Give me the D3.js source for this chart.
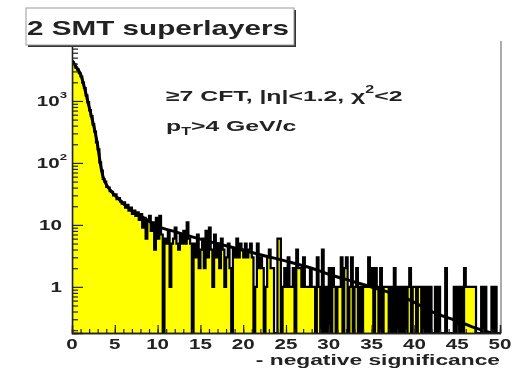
<!DOCTYPE html>
<html>
<head>
<meta charset="utf-8">
<script src="https://cdn.jsdelivr.net/npm/d3@7"></script>
<style>
  html, body { margin: 0; padding: 0; background: #fff; }
  svg { display: block; filter: blur(0.65px); }
</style>
</head>
<body>
<svg id="chart" width="514" height="369"></svg>
<script>
// ---------------- data ----------------
const binWidth = 0.2;           // histogram bin width (units of significance)
const histMin = 0;
const counts = [
  // 0 - 5
  4250, 3950, 3450, 3200, 2800, 2480, 1980, 1620, 1230, 960,
  710, 570, 420, 320, 215, 165, 102, 75, 55, 50,
  41, 40, 35, 34, 30,
  // 5 - 10
  31, 26, 27, 24, 22, 23, 19, 21, 17, 19,
  15, 17, 14, 16, 12, 15, 9, 13, 6, 12,
  14, 8, 11, 4, 13,
  // 10 - 20
  6, 14, 7, 0, 6, 5, 8, 1, 5, 6,
  9, 5, 4, 7, 5, 8, 5, 11, 6, 5,
  0, 5, 3, 7, 2, 4, 6, 2, 8, 3,
  9, 4, 1, 7, 3, 5, 2, 6, 4, 1,
  3, 5, 2, 0, 4, 3, 6, 3, 5, 4,
  // 20 - 30
  3, 5, 3, 4, 5, 3, 0, 1, 5, 2,
  3, 2, 0, 1, 3, 4, 2, 2, 0, 0,
  6, 6, 0, 1, 2, 1, 3, 1, 1, 2,
  0, 4, 2, 2, 1, 3, 1, 1, 1, 2,
  1, 1, 0, 3, 1, 0, 4, 0, 1, 0,
  // 30 - 40
  2, 0, 2, 1, 0, 1, 1, 3, 0, 2,
  3, 0, 1, 3, 0, 1, 2, 0, 1, 0,
  1, 1, 1, 3, 1, 2, 0, 2, 1, 0,
  2, 0, 1, 1, 1, 0, 1, 0, 2, 0,
  1, 0, 1, 0, 1, 0, 1, 2, 0, 1,
  // 40 - 50
  1, 0, 1, 1, 0, 1, 0, 1, 0, 1,
  0, 0, 1, 0, 1, 0, 0, 0, 2, 0,
  0, 0, 0, 1, 0, 1, 0, 1, 0, 2,
  1, 1, 1, 1, 1, 1, 0, 0, 0, 1,
  0, 1, 0, 0, 0, 1, 0, 1, 0, 0
];

// fitted curve
const fitX = [0, 0.5, 1.0, 1.5, 2.0, 2.5, 2.8, 3.0, 3.3, 3.6, 4.0, 4.5, 5.0, 5.5, 6.0, 7.0, 8.0, 9.0, 10,
              12, 15, 18, 20, 22, 25, 28, 30, 33, 36, 39, 42, 45, 47, 49];
const fitY = [4500, 3500, 2700, 1550, 800, 420, 270, 190, 100, 62, 45, 36, 30, 26, 22, 17, 14, 11.5, 9.5,
              7.8, 5.9, 4.6, 3.9, 3.3, 2.6, 2.0, 1.6, 1.2, 0.9, 0.66, 0.40, 0.28, 0.22, 0.18];

const xTicksMajor = [0, 5, 10, 15, 20, 25, 30, 35, 40, 45, 50];
const xTicksMinor = d3.range(0, 51, 1);
const yTicksMajor = [1, 10, 100, 1000];
const yTickBase = ["1", "10", "10", "10"];
const yTickExp = ["", "", "2", "3"];
const yTicksMinor = [0.2,0.3,0.4,0.5,0.6,0.7,0.8,0.9, 2,3,4,5,6,7,8,9, 20,30,40,50,60,70,80,90,
                     200,300,400,500,600,700,800,900, 2000,3000,4000,5000,6000,7000,8000];

const titleText = "2 SMT superlayers";
const xAxisTitle = "- negative significance";

// ---------------- layout ----------------
const svg = d3.select("#chart");
const FX0 = 72, FX1 = 500, FY0 = 45, FY1 = 333;
const SX = 1.47; // horizontal stretch of the fonts in the original
const FONT = "'Liberation Sans', Arial, Helvetica, sans-serif";

const x = d3.scaleLinear().domain([0, 50]).range([FX0, FX1]);
const y = d3.scaleLog().domain([0.18, 8000]).range([FY1, FY0]);

svg.append("rect").attr("width", 514).attr("height", 369).attr("fill", "#fff");

svg.append("defs").append("clipPath").attr("id", "frameClip")
  .append("rect").attr("x", FX0).attr("y", FY0).attr("width", FX1 - FX0).attr("height", FY1 - FY0);

// frame (right edge)
svg.append("line").attr("x1", FX1 + 1).attr("x2", FX1 + 1).attr("y1", FY0 - 4).attr("y2", FY1)
  .attr("stroke", "#888").attr("stroke-width", 1.4);

// histogram
const yv = v => v > 0 ? y(v) : FY1;
let pts = [[x(histMin), FY1]];
counts.forEach((c, i) => {
  const a = histMin + i * binWidth, b = a + binWidth;
  pts.push([x(a), yv(c)], [x(b), yv(c)]);
});
pts.push([x(histMin + counts.length * binWidth), FY1]);

const plot = svg.append("g").attr("clip-path", "url(#frameClip)");
plot.append("path")
  .attr("d", d3.line()(pts) + "Z")
  .attr("fill", "#ffff00").attr("stroke", "none");
plot.append("path")
  .attr("d", d3.line()(pts))
  .attr("fill", "none").attr("stroke", "#000").attr("stroke-width", 2.2);

// fit curve
const fitLine = d3.line().x(d => x(d[0])).y(d => y(d[1])).curve(d3.curveMonotoneX);
plot.append("path")
  .attr("d", fitLine(fitX.map((v, i) => [v, fitY[i]])))
  .attr("fill", "none").attr("stroke", "#000").attr("stroke-width", 3);

// axes (ticks point inward)
const gx = svg.append("g").attr("transform", `translate(0,${FY1})`);
gx.call(d3.axisBottom(x).tickValues(xTicksMinor).tickSize(-4).tickFormat(""));
gx.append("g").call(d3.axisBottom(x).tickValues(xTicksMajor).tickSize(-8).tickFormat(""));
gx.selectAll(".domain").attr("stroke", "#222").attr("stroke-width", 1.3);
gx.selectAll(".tick line").attr("stroke", "#222").attr("stroke-width", 1.2);

const gy = svg.append("g").attr("transform", `translate(${FX0},0)`);
gy.call(d3.axisLeft(y).tickValues(yTicksMinor).tickSize(-6).tickFormat(""));
gy.append("g").call(d3.axisLeft(y).tickValues(yTicksMajor).tickSize(-11).tickFormat(""));
gy.selectAll(".domain").attr("stroke", "#222").attr("stroke-width", 1.3);
gy.selectAll(".tick line").attr("stroke", "#222").attr("stroke-width", 1.2);

// stretched text helper
function stext(px, py, size, anchor, sx) {
  return svg.append("text")
    .attr("transform", `translate(${px},${py}) scale(${sx || SX},1)`)
    .attr("text-anchor", anchor)
    .attr("fill", "#222")
    .style("font-family", FONT).style("font-weight", "bold").style("font-size", size + "px");
}

// x tick labels
xTicksMajor.forEach(v => {
  stext(x(v), 349, 14, "middle").text(v);
});

// y tick labels
yTicksMajor.forEach((v, i) => {
  const t = stext(yTickExp[i] ? 67 : 62, y(v) + 5, 14, "end");
  t.append("tspan").text(yTickBase[i]);
  if (yTickExp[i]) t.append("tspan").attr("dy", -8).style("font-size", "9px").text(yTickExp[i]);
});

// x axis title
stext(500, 365, 15.5, "end").text(xAxisTitle);

// annotations
const t1 = stext(166, 101, 15.5, "start", 1.6);
t1.append("tspan").text("\u22657 CFT, |\u03b7|<1.2, \u03c7");
t1.append("tspan").attr("dy", -8).style("font-size", "10px").text("2");
t1.append("tspan").attr("dy", 8).text("<2");

const t2 = stext(166, 131, 15.5, "start", 1.6);
t2.append("tspan").text("p");
t2.append("tspan").attr("dy", 4).style("font-size", "10px").text("T");
t2.append("tspan").attr("dy", -4).text(">4 GeV/c");

// title box with shadow
svg.append("rect").attr("x", 28).attr("y", 10).attr("width", 268).attr("height", 37).attr("fill", "#333");
svg.append("rect").attr("x", 26).attr("y", 8).attr("width", 268).attr("height", 37)
  .attr("fill", "#fff").attr("stroke", "#999").attr("stroke-width", 1);
stext(158, 35, 19.5, "middle", 1.52).text(titleText);
</script>
</body>
</html>
